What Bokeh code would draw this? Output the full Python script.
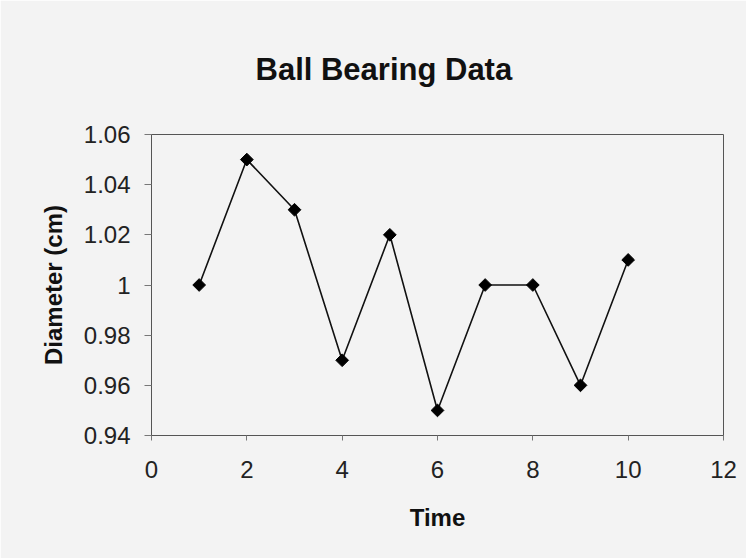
from bokeh.plotting import figure
from bokeh.models import Range1d, FixedTicker, CustomJSTickFormatter
from bokeh.embed import file_html
from bokeh.resources import INLINE
import math

# Data
time = [1, 2, 3, 4, 5, 6, 7, 8, 9, 10]
diameter = [1.00, 1.05, 1.03, 0.97, 1.02, 0.95, 1.00, 1.00, 0.96, 1.01]
x_ticks = [0, 2, 4, 6, 8, 10, 12]
y_ticks = [0.94, 0.96, 0.98, 1.00, 1.02, 1.04, 1.06]
title_text = "Ball Bearing Data"
x_label = "Time"
y_label = "Diameter (cm)"

FONT = "Liberation Sans"
BG = "#f3f3f3"

p = figure(width=746, height=558, output_backend="svg", toolbar_location=None,
           x_range=Range1d(0, 12), y_range=Range1d(0.94, 1.06),
           min_border_left=151, min_border_right=23,
           min_border_top=134, min_border_bottom=123,
           title=title_text)
p.background_fill_color = BG
p.border_fill_color = BG
p.outline_line_color = "#555555"
p.outline_line_width = 1
p.grid.visible = False

p.title.text_font = FONT
p.title.text_font_size = "31px"
p.title.text_font_style = "bold"
p.title.text_color = "#111111"
p.title.align = "left"
p.title.offset = 104
p.title.standoff = 95

p.line(time, diameter, line_color="#111111", line_width=1.6)
p.scatter(time, diameter, marker="square", angle=math.pi / 4, size=9,
          fill_color="#000000", line_color="#000000")

xax = p.below[0]
yax = p.left[0]
for ax in (xax, yax):
    ax.axis_line_color = "#555555"
    ax.major_tick_line_color = "#777777"
    ax.minor_tick_line_color = None
    ax.major_tick_in = 0
    ax.major_label_text_font = FONT
    ax.major_label_text_font_size = "24px"
    ax.major_label_text_color = "#222222"
    ax.axis_label_text_font = FONT
    ax.axis_label_text_font_size = "24px"
    ax.axis_label_text_font_style = "bold"
    ax.axis_label_text_color = "#111111"

xax.ticker = FixedTicker(ticks=x_ticks)
yax.ticker = FixedTicker(ticks=y_ticks)
yax.formatter = CustomJSTickFormatter(code="return String(Number(tick.toFixed(2)));")
xax.major_tick_out = 5
yax.major_tick_out = 7
xax.major_label_standoff = 20
yax.major_label_standoff = 14
xax.axis_label = x_label
yax.axis_label = y_label
xax.axis_label_standoff = 23
yax.axis_label_standoff = 14

open("out.html", "w").write(file_html(p, INLINE))
